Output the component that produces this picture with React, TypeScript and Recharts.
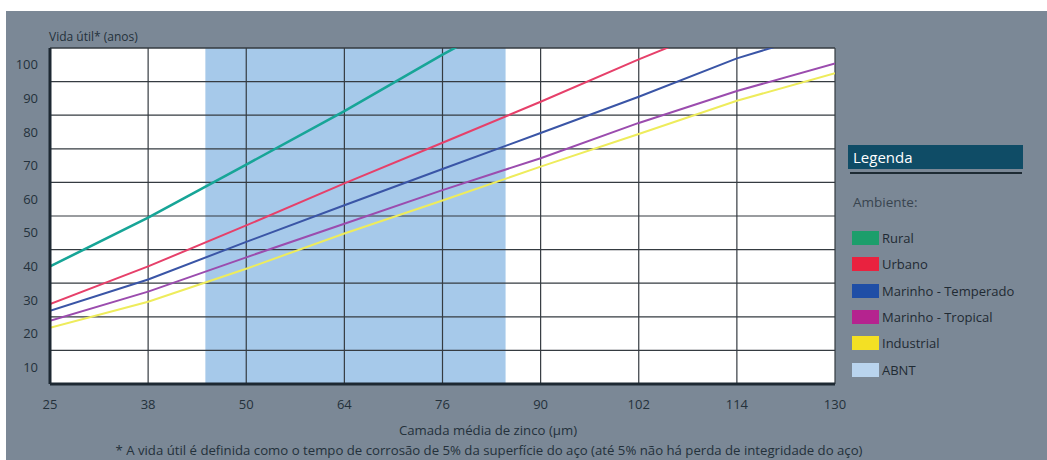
import { CartesianGrid, Line, LineChart, ReferenceArea, ReferenceLine, XAxis, YAxis } from 'recharts'

// camada média de zinco (µm) — ticks of the x axis, drawn evenly spaced
const thickness = [25, 38, 50, 64, 76, 90, 102, 114, 130]

// vida útil (anos) read at each thickness tick
const rural = [40, 54.5, 70.3, 86.2, 103, 119, null, null, null]
const urbano = [28.8, 40, 52.2, 64.7, 76.8, 89, 101.6, 113.5, null]
const marinhoTemperado = [26.8, 36.1, 47.3, 58.2, 69, 79.7, 90.5, 101.9, 110.8]
const marinhoTropical = [23.8, 32.5, 42.7, 52.7, 62.7, 72.2, 82.7, 92.2, 100.4]
const industrial = [21.7, 29.5, 39.3, 49.8, 59.6, 69.7, 79.4, 89.3, 97.5]

const lifeTicks = [10, 20, 30, 40, 50, 60, 70, 80, 90, 100]
const lifeGrid = [15, 25, 35, 45, 55, 65, 75, 85, 95]
const lifeDomain = [5, 105]

// faixa ABNT (µm)
const abntRange = [45, 85]

const series = [
  { key: 'rural', name: 'Rural', values: rural, line: '#17a597', swatch: '#1c9e6b', width: 2.6 },
  { key: 'urbano', name: 'Urbano', values: urbano, line: '#e6406a', swatch: '#e9223f', width: 2 },
  { key: 'temperado', name: 'Marinho - Temperado', values: marinhoTemperado, line: '#3a55a6', swatch: '#1f4ea6', width: 2 },
  { key: 'tropical', name: 'Marinho - Tropical', values: marinhoTropical, line: '#9b4cae', swatch: '#b5238f', width: 2 },
  { key: 'industrial', name: 'Industrial', values: industrial, line: '#eeec5c', swatch: '#f3e024', width: 2 },
]

const slots = thickness.map((_, i) => i)

const data = thickness.map((t, i) => {
  const row: Record<string, number | null> = { slot: i, thickness: t }
  series.forEach((s) => {
    row[s.key] = s.values[i]
  })
  return row
})

// place a thickness between two ticks on the evenly spaced axis
function toSlot(um: number) {
  for (let i = 0; i < thickness.length - 1; i++) {
    if (um >= thickness[i] && um <= thickness[i + 1]) {
      return i + (um - thickness[i]) / (thickness[i + 1] - thickness[i])
    }
  }
  return um < thickness[0] ? 0 : thickness.length - 1
}

const ink = '#24313b'
const gridInk = '#353b41'

export default function App() {
  return (
    <div
      style={{
        position: 'absolute',
        left: 0,
        top: 0,
        width: 1047,
        height: 460,
        overflow: 'hidden',
        background: '#fff',
        fontFamily: "'Open Sans', sans-serif",
      }}
    >
      <div style={{ position: 'absolute', left: 6, top: 11, right: 0, bottom: 0, background: '#7b8896' }} />

      <div style={{ position: 'absolute', left: 49, top: 30, fontSize: 12, lineHeight: '14px', color: ink }}>
        Vida útil* (anos)
      </div>

      <div style={{ position: 'absolute', left: 0, top: 0 }}>
        <LineChart width={1047} height={460} data={data} margin={{ top: 48, right: 212, bottom: 46, left: 10 }}>
          <CartesianGrid horizontal={false} vertical={false} fill='#ffffff' />
          <ReferenceArea
            x1={toSlot(abntRange[0])}
            x2={toSlot(abntRange[1])}
            fill='#a6c9ea'
            fillOpacity={1}
            stroke='none'
          />
          {lifeGrid.map((v) => (
            <ReferenceLine key={'h' + v} y={v} stroke={gridInk} strokeWidth={1.2} />
          ))}
          {slots.slice(1).map((i) => (
            <ReferenceLine key={'v' + i} x={i} stroke={gridInk} strokeWidth={1.2} />
          ))}
          <ReferenceLine y={lifeDomain[1]} stroke={gridInk} strokeWidth={1.5} />
          <XAxis
            type='number'
            dataKey='slot'
            domain={[0, slots.length - 1]}
            ticks={slots}
            tickFormatter={(i) => String(thickness[i])}
            allowDataOverflow
            height={30}
            tickLine={false}
            tickMargin={10}
            axisLine={{ stroke: '#1d2832', strokeWidth: 3 }}
            tick={{ fill: ink, fontSize: 13 }}
          />
          <YAxis
            type='number'
            domain={lifeDomain}
            ticks={lifeTicks}
            allowDataOverflow
            width={40}
            tickLine={false}
            tickMargin={6}
            axisLine={{ stroke: '#1d2832', strokeWidth: 3 }}
            tick={{ fill: ink, fontSize: 13 }}
          />
          {series.map((s) => (
            <Line
              key={s.key}
              type='linear'
              dataKey={s.key}
              name={s.name}
              stroke={s.line}
              strokeWidth={s.width}
              dot={false}
              activeDot={false}
              isAnimationActive={false}
            />
          ))}
        </LineChart>
      </div>

      <div
        style={{
          position: 'absolute',
          left: 0,
          width: 976,
          top: 421,
          textAlign: 'center',
          fontSize: 13.2,
          lineHeight: '18px',
          color: ink,
        }}
      >
        Camada média de zinco (µm)
      </div>
      <div
        style={{
          position: 'absolute',
          left: 0,
          width: 978,
          top: 441,
          textAlign: 'center',
          fontSize: 13.2,
          lineHeight: '18px',
          color: ink,
          whiteSpace: 'nowrap',
        }}
      >
        * A vida útil é definida como o tempo de corrosão de 5% da superfície do aço (até 5% não há perda de integridade do aço)
      </div>

      {/* legenda */}
      <div
        style={{
          position: 'absolute',
          left: 848,
          top: 145,
          width: 170,
          height: 24,
          paddingLeft: 5,
          background: '#0f4c66',
          color: '#fff',
          fontSize: 15,
          lineHeight: '24px',
        }}
      >
        Legenda
      </div>
      <div style={{ position: 'absolute', left: 850, top: 172, width: 172, height: 1.5, background: '#1d2a33' }} />
      <div style={{ position: 'absolute', left: 853, top: 193, fontSize: 13.5, lineHeight: '18px', color: '#38444f' }}>
        Ambiente:
      </div>
      {[...series.map((s) => ({ name: s.name, color: s.swatch })), { name: 'ABNT', color: '#b9d4ee' }].map((item, k) => (
        <div
          key={item.name}
          style={{
            position: 'absolute',
            left: 852,
            top: 229 + k * 26.3,
            height: 18,
            display: 'flex',
            alignItems: 'center',
            fontSize: 13,
            color: '#1f2a33',
          }}
        >
          <span style={{ width: 27, height: 14, background: item.color, marginRight: 3, display: 'inline-block' }} />
          {item.name}
        </div>
      ))}
    </div>
  )
}
